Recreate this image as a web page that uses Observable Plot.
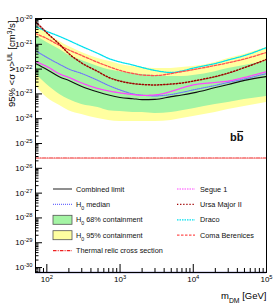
<!DOCTYPE html>
<html><head><meta charset="utf-8">
<script src="https://cdn.jsdelivr.net/npm/d3@7"></script>
<script src="https://cdn.jsdelivr.net/npm/@observablehq/plot@0.6"></script>
<style>body{margin:0;background:#fff;}</style>
</head><body><div id="chart"></div>
<script>
// ---- data ----
const mass      = [70,100,150,200,300,500,700,1000,1500,2000,3000,5000,7000,1e4,2e4,3e4,5e4,1e5];
const combined  = [1.68e-22,9.6e-23,4.8e-23,3.47e-23,1.99e-23,1.19e-23,9.0e-24,7.2e-24,6.4e-24,5.9e-24,6.0e-24,7.8e-24,9.0e-24,1.1e-23,1.8e-23,2.4e-23,3.5e-23,5.0e-23];
const median    = [5.6e-22,2.95e-22,1.55e-22,1.0e-22,6.65e-23,3.47e-23,2.18e-23,1.44e-23,1.0e-23,8.9e-24,8.3e-24,9.5e-24,1.15e-23,1.45e-23,2.2e-23,2.9e-23,4.0e-23,6.6e-23];
const band68hi  = [2.27e-21,1.18e-21,6.1e-22,3.5e-22,2.2e-22,1.27e-22,9.5e-23,7.9e-23,6.6e-23,6.0e-23,5.5e-23,5.0e-23,5.0e-23,5.5e-23,7.9e-23,1.05e-22,1.4e-22,2.05e-22];
const band68lo  = [6.6e-23,2.4e-23,9.5e-24,5.9e-24,3.7e-24,2.8e-24,2.1e-24,1.95e-24,1.78e-24,1.78e-24,1.62e-24,1.78e-24,2.1e-24,2.55e-24,3.7e-24,4.5e-24,5.9e-24,7.9e-24];
const band95hi  = [6.3e-21,2.75e-21,1.3e-21,8.1e-22,4.7e-22,2.7e-22,2.05e-22,1.55e-22,1.27e-22,1.15e-22,1.05e-22,1.05e-22,1.15e-22,1.27e-22,1.85e-22,2.7e-22,3.9e-22,7.4e-22];
const band95lo  = [2.2e-23,7.1e-24,3.4e-24,2.1e-24,1.48e-24,1.02e-24,8.5e-25,7.8e-25,7.8e-25,7.8e-25,7.8e-25,8.5e-25,1.02e-24,1.23e-24,1.78e-24,2.35e-24,3.1e-24,4.5e-24];
const segue1    = [2.02e-22,1.27e-22,6.35e-23,4.6e-23,2.75e-23,1.65e-23,1.31e-23,1.1e-23,9.4e-24,8.7e-24,9.1e-24,1.26e-23,1.74e-23,2.3e-23,2.9e-23,3.3e-23,4.6e-23,7.9e-23];
const ursaMajor = [8.3e-21,2.9e-21,9.8e-22,4.2e-22,1.75e-22,7.9e-23,4.6e-23,3.3e-23,2.6e-23,2.4e-23,2.3e-23,2.5e-23,2.75e-23,3.3e-23,5.0e-23,6.9e-23,1.15e-22,2.45e-22];
const draco     = [5.2e-21,3.3e-21,2.06e-21,1.42e-21,8.2e-22,4.26e-22,2.68e-22,1.93e-22,1.46e-22,1.16e-22,8.8e-23,7.3e-23,8.4e-23,1.1e-22,1.68e-22,2.33e-22,3.5e-22,7.4e-22];
const coma      = [2.72e-21,1.71e-21,8.95e-22,5.9e-22,3.53e-22,1.85e-22,1.27e-22,8.8e-23,6.65e-23,5.8e-23,5.5e-23,6.6e-23,7.9e-23,9.5e-23,1.4e-22,1.8e-22,2.55e-22,4.7e-22];
const thermalMass = [70, 1e5];
const thermal     = [2.6e-26, 2.6e-26];

const xMajorTicks = [1e2, 1e3, 1e4, 1e5];
const xMinorTicks = [80,90,200,300,400,500,600,700,800,900,2000,3000,4000,5000,6000,7000,8000,9000,2e4,3e4,4e4,5e4,6e4,7e4,8e4,9e4];
const yMajorExp = [-30,-29,-28,-27,-26,-25,-24,-23,-22,-21,-20];

const xDomain = [70, 1e5];
const yDomain = [10 ** -30.2, 10 ** -19.96];

// ---- build ----
const rows = mass.map((m, i) => ({
  m, combined: combined[i], median: median[i], lo68: band68lo[i], hi68: band68hi[i],
  lo95: band95lo[i], hi95: band95hi[i], segue1: segue1[i], ursaMajor: ursaMajor[i],
  draco: draco[i], coma: coma[i]
}));
const thermalRows = thermalMass.map((m, i) => ({m, v: thermal[i]}));
const yMajor = yMajorExp.map(e => 10 ** e);
const yMinor = [];
for (let e = -31; e <= -20; e++) for (let k = 2; k <= 9; k++) {
  const v = k * 10 ** e; if (v > yDomain[0] && v < yDomain[1]) yMinor.push(v);
}
const FONT = "'Liberation Sans', Arial, Helvetica, sans-serif";
const sup = d => `10^{${Math.round(Math.log10(d))}}`;

const STY = {
  combined: {stroke: "#111", dash: null, w: 1.1},
  median: {stroke: "#6f6fff", dash: "1,1", w: 1.1},
  segue1: {stroke: "#ff44ff", dash: "1.5,1", w: 1.3},
  ursaMajor: {stroke: "#a00000", dash: "1.3,1.8", w: 1.5},
  draco: {stroke: "#00e0ee", dash: "1.5,1", w: 1.3},
  coma: {stroke: "#ff5050", dash: "2.5,1.5", w: 1.3},
  thermal: {stroke: "#ee2020", dash: "3.5,1.2,1,1.2", w: 1.1}
};
const lineOpts = (key) => ({x: "m", y: key, stroke: STY[key].stroke, strokeDasharray: STY[key].dash, strokeWidth: STY[key].w, curve: "monotone-x", clip: true});

const plot = Plot.plot({
  width: 274, height: 307,
  marginLeft: 35, marginRight: 8, marginTop: 18, marginBottom: 35,
  style: {fontFamily: FONT, fontSize: "8px", background: "white", color: "black"},
  x: {type: "log", domain: xDomain},
  y: {type: "log", domain: yDomain},
  marks: [
    Plot.areaY(rows, {x: "m", y1: "lo95", y2: "hi95", fill: "#ffffa0", curve: "monotone-x", clip: true}),
    Plot.areaY(rows, {x: "m", y1: "lo68", y2: "hi68", fill: "#a4f4a4", curve: "monotone-x", clip: true}),
    Plot.line(rows, lineOpts("draco")),
    Plot.line(rows, lineOpts("coma")),
    Plot.line(rows, lineOpts("ursaMajor")),
    Plot.line(rows, lineOpts("median")),
    Plot.line(rows, lineOpts("segue1")),
    Plot.line(rows, lineOpts("combined")),
    Plot.line(thermalRows, {x: "m", y: "v", stroke: STY.thermal.stroke, strokeDasharray: STY.thermal.dash, strokeWidth: STY.thermal.w}),
    Plot.ruleY([yDomain[0]], {stroke: "#5a5aaa", strokeWidth: 1.6}),
    Plot.frame({stroke: "black", strokeWidth: 1}),
    Plot.axisX(xMajorTicks, {anchor: "bottom", tickSize: -8, tickPadding: 12, tickFormat: sup, label: null, fontSize: 8}),
    Plot.axisX(xMinorTicks, {anchor: "bottom", tickSize: -4, tickFormat: () => "", label: null}),
    Plot.axisY(yMajor, {anchor: "left", tickSize: -7, tickPadding: 10, tickFormat: sup, label: null, fontSize: 8}),
    Plot.axisY(yMinor, {anchor: "left", tickSize: -3.5, tickFormat: () => "", label: null}),
    Plot.text([0], {frameAnchor: "top-left", text: () => "95% <σ v>^{UL} [cm^{3}/s]", rotate: -90, textAnchor: "end", dx: -27, dy: 2, fontSize: 9.5}),
    Plot.text([0], {frameAnchor: "bottom-right", text: () => "m_{DM} [GeV]", textAnchor: "end", dy: 26, dx: 0, fontSize: 9.5})
  ]
});

document.getElementById("chart").appendChild(plot);

// rich text: ^{..} superscript, _{..} subscript
const NS = "http://www.w3.org/2000/svg";
function rich(el) {
  const s = el.textContent;
  if (!/[\^_]\{/.test(s)) return;
  el.textContent = "";
  const re = /([\^_])\{([^}]*)\}|([^\^_]+)/g;
  let m;
  while ((m = re.exec(s))) {
    const t = document.createElementNS(NS, "tspan");
    if (m[1]) {
      t.setAttribute("baseline-shift", m[1] === "^" ? "super" : "sub");
      t.setAttribute("font-size", "72%");
      t.textContent = m[2];
    } else t.textContent = m[3];
    el.appendChild(t);
  }
}

const svg = d3.select(plot);
svg.selectAll("text").each(function () { rich(this); });

// legend (inside plot, two columns)
const lg = svg.append("g").attr("font-family", FONT).attr("font-size", 7.3).attr("fill", "#111").attr("text-anchor", "start");
const leftItems = [
  {label: "Combined limit", kind: "line", key: "combined"},
  {label: "H_{0} median", kind: "line", key: "median"},
  {label: "H_{0} 68% containment", kind: "box", fill: "#a4f4a4"},
  {label: "H_{0} 95% containment", kind: "box", fill: "#ffffa0"},
  {label: "Thermal relic cross section", kind: "line", key: "thermal"}
];
const rightItems = [
  {label: "Segue 1", kind: "line", key: "segue1"},
  {label: "Ursa Major II", kind: "line", key: "ursaMajor"},
  {label: "Draco", kind: "line", key: "draco"},
  {label: "Coma Berenices", kind: "line", key: "coma"}
];
function drawItems(items, x0, x1, tx, y0, dy) {
  items.forEach((it, i) => {
    const y = y0 + i * dy;
    if (it.kind === "line") {
      const s = STY[it.key];
      lg.append("line").attr("x1", x0).attr("x2", x1).attr("y1", y).attr("y2", y)
        .attr("stroke", it.key === "combined" ? "#333" : s.stroke).attr("stroke-width", Math.min(s.w, 1.2)).attr("stroke-dasharray", s.dash);
    } else {
      lg.append("rect").attr("x", x0).attr("y", y - 4.5).attr("width", x1 - x0).attr("height", 9)
        .attr("fill", it.fill).attr("stroke", "#555").attr("stroke-width", 0.8);
    }
    const t = lg.append("text").attr("x", tx).attr("y", y).attr("dy", "0.35em").text(it.label);
    rich(t.node());
  });
}
drawItems(leftItems, 53, 72, 76, 189, 15.4);
drawItems(rightItems, 177, 195, 200, 189, 15.4);

// b b-bar label
const bb = svg.append("text").attr("x", 230).attr("y", 141).attr("font-family", FONT).attr("text-anchor", "start")
  .attr("font-size", 11).attr("font-weight", "bold").attr("fill", "#111").text("bb");
const w = bb.node().getComputedTextLength();
svg.append("line").attr("x1", 230 + w / 2 + 0.5).attr("x2", 230 + w - 0.3)
  .attr("y1", 131.5).attr("y2", 131.5).attr("stroke", "#111").attr("stroke-width", 1.1);
</script>
</body></html>
